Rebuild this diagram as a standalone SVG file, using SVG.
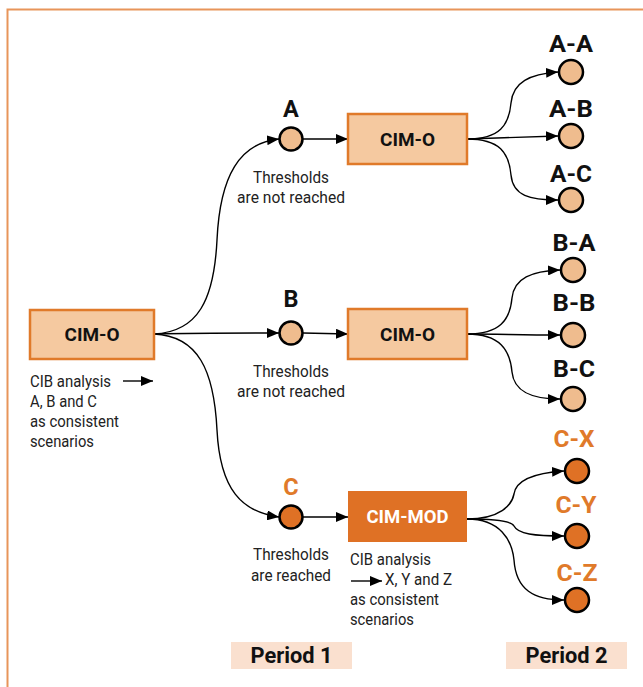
<svg xmlns="http://www.w3.org/2000/svg" width="643" height="687" viewBox="0 0 643 687">
<defs>
<marker id="ah" viewBox="0 0 12 10" refX="12" refY="5" markerWidth="12" markerHeight="10" markerUnits="userSpaceOnUse" orient="auto">
<path d="M0,0 L12,5 L0,10 Z" fill="#000"/>
</marker>
<style>
.box{fill:#F5C9A0;stroke:#E07A2A;stroke-width:2.5}
.boxd{fill:#DF7125}
.cl{fill:#EFBC8E;stroke:#000;stroke-width:2.5}
.cd{fill:#DF7125;stroke:#000;stroke-width:2.5}
.e{fill:none;stroke:#000;stroke-width:1.4;marker-end:url(#ah)}
text{font-family:Roboto,"DejaVu Sans",sans-serif}
.bt{font-size:18.5px;font-weight:bold;text-anchor:middle;fill:#111}
.lb{font-size:23.5px;font-weight:bold;text-anchor:middle;fill:#111}
.lo{fill:#E07A2A}
.sm{font-size:16.5px;fill:#222}
.smc{font-size:16.5px;fill:#222;text-anchor:middle}
.per{fill:#FAE0CF}
.pt{font-size:22px;font-weight:bold;text-anchor:middle;fill:#111}
</style>
</defs>
<rect x="7.5" y="9.5" width="700" height="700" fill="none" stroke="#E8955A" stroke-width="2"/>

<g id="connectors">
<path class="e" d="M154,334 C198,332 214,300 217,240 C220,175 240,143 279,139"/>
<path class="e" d="M154,334 C200,333 240,333 279,333"/>
<path class="e" d="M154,334 C198,336 214,370 217,430 C220,490 242,512 279,517"/>
<path class="e" d="M302,139 L348,139"/>
<path class="e" d="M303,333 L348,334"/>
<path class="e" d="M303,517 L348,517"/>
<path class="e" d="M467,139 C500,139 509,125 511,103 C513,82 530,74 558,72"/>
<path class="e" d="M467,139 C500,138 520,137 558,136"/>
<path class="e" d="M467,139 C500,139 509,153 511,175 C513,196 530,200 558,200"/>
<path class="e" d="M467,334 C500,334 510,320 512,298 C514,278 532,271 560,270"/>
<path class="e" d="M467,334 C500,334 520,335 560,335"/>
<path class="e" d="M467,334 C500,334 510,350 512,372 C514,392 532,399 560,399"/>
<path class="e" d="M467,519 C500,519 512,505 514,494 C516,480 534,473 564,471"/>
<path class="e" d="M467,519 C500,519 512,522 514,526 C518,534 534,536 564,536"/>
<path class="e" d="M467,519 C500,519 512,540 514,560 C516,590 534,600 564,600"/>
<path d="M123,381 L153,381" fill="none" stroke="#000" stroke-width="1.4" marker-end="url(#ah)"/>
<path d="M351,581 L382,581" fill="none" stroke="#000" stroke-width="1.4" marker-end="url(#ah)"/>
</g>

<g id="cim-o-main">
<rect class="box" x="30" y="310" width="124" height="49"/>
<text class="bt" x="92" y="341" textLength="55" lengthAdjust="spacingAndGlyphs">CIM-O</text>
<text class="sm" x="30" y="387" textLength="81" lengthAdjust="spacingAndGlyphs">CIB analysis</text>
<text class="sm" x="30" y="407" textLength="67" lengthAdjust="spacingAndGlyphs">A, B and C</text>
<text class="sm" x="30" y="427" textLength="89" lengthAdjust="spacingAndGlyphs">as consistent</text>
<text class="sm" x="30" y="447" textLength="64" lengthAdjust="spacingAndGlyphs">scenarios</text>
</g>

<g id="node-A">
<circle class="cl" cx="291" cy="139" r="11.5"/>
<text class="lb" x="291" y="117">A</text>
<text class="smc" x="291" y="183" textLength="76" lengthAdjust="spacingAndGlyphs">Thresholds</text>
<text class="smc" x="291" y="203" textLength="108" lengthAdjust="spacingAndGlyphs">are not reached</text>
</g>
<g id="node-B">
<circle class="cl" cx="291" cy="333" r="11.5"/>
<text class="lb" x="291" y="307">B</text>
<text class="smc" x="291" y="377" textLength="76" lengthAdjust="spacingAndGlyphs">Thresholds</text>
<text class="smc" x="291" y="397" textLength="108" lengthAdjust="spacingAndGlyphs">are not reached</text>
</g>
<g id="node-C">
<circle class="cd" cx="291" cy="517" r="11.5"/>
<text class="lb lo" x="291" y="495">C</text>
<text class="smc" x="291" y="560" textLength="76" lengthAdjust="spacingAndGlyphs">Thresholds</text>
<text class="smc" x="291" y="581" textLength="80" lengthAdjust="spacingAndGlyphs">are reached</text>
</g>

<g id="cim-o-A">
<rect class="box" x="348" y="114" width="119" height="50"/>
<text class="bt" x="407.5" y="145.5" textLength="55" lengthAdjust="spacingAndGlyphs">CIM-O</text>
</g>
<g id="cim-o-B">
<rect class="box" x="348" y="309" width="119" height="50"/>
<text class="bt" x="407.5" y="340.5" textLength="55" lengthAdjust="spacingAndGlyphs">CIM-O</text>
</g>
<g id="cim-mod">
<rect class="boxd" x="348" y="491" width="119" height="51"/>
<text class="bt" x="407.5" y="523" style="fill:#fff" textLength="82" lengthAdjust="spacingAndGlyphs">CIM-MOD</text>
<text class="sm" x="350" y="565" textLength="81" lengthAdjust="spacingAndGlyphs">CIB analysis</text>
<text class="sm" x="385" y="585" textLength="67" lengthAdjust="spacingAndGlyphs">X, Y and Z</text>
<text class="sm" x="350" y="605" textLength="89" lengthAdjust="spacingAndGlyphs">as consistent</text>
<text class="sm" x="350" y="625" textLength="64" lengthAdjust="spacingAndGlyphs">scenarios</text>
</g>

<g id="node-AA"><circle class="cl" cx="571" cy="72" r="12"/><text class="lb" x="571" y="52" textLength="44" lengthAdjust="spacingAndGlyphs">A-A</text></g>
<g id="node-AB"><circle class="cl" cx="571" cy="136" r="12"/><text class="lb" x="571" y="117" textLength="44" lengthAdjust="spacingAndGlyphs">A-B</text></g>
<g id="node-AC"><circle class="cl" cx="571" cy="200" r="12"/><text class="lb" x="571" y="182" textLength="42" lengthAdjust="spacingAndGlyphs">A-C</text></g>
<g id="node-BA"><circle class="cl" cx="573" cy="270" r="12"/><text class="lb" x="574" y="251" textLength="43" lengthAdjust="spacingAndGlyphs">B-A</text></g>
<g id="node-BB"><circle class="cl" cx="573" cy="335" r="12"/><text class="lb" x="574" y="311" textLength="43" lengthAdjust="spacingAndGlyphs">B-B</text></g>
<g id="node-BC"><circle class="cl" cx="573" cy="399" r="12"/><text class="lb" x="574" y="377" textLength="42" lengthAdjust="spacingAndGlyphs">B-C</text></g>
<g id="node-CX"><circle class="cd" cx="577" cy="471" r="12"/><text class="lb lo" x="574" y="447" textLength="41" lengthAdjust="spacingAndGlyphs">C-X</text></g>
<g id="node-CY"><circle class="cd" cx="577" cy="536" r="12"/><text class="lb lo" x="576" y="513" textLength="41" lengthAdjust="spacingAndGlyphs">C-Y</text></g>
<g id="node-CZ"><circle class="cd" cx="577" cy="600" r="12"/><text class="lb lo" x="577" y="581" textLength="41" lengthAdjust="spacingAndGlyphs">C-Z</text></g>

<g id="period-1">
<rect class="per" x="231" y="642" width="121" height="27"/>
<text class="pt" x="291.5" y="663" textLength="82" lengthAdjust="spacingAndGlyphs">Period 1</text>
</g>
<g id="period-2">
<rect class="per" x="506" y="642" width="121" height="27"/>
<text class="pt" x="566.5" y="663" textLength="82" lengthAdjust="spacingAndGlyphs">Period 2</text>
</g>
</svg>
